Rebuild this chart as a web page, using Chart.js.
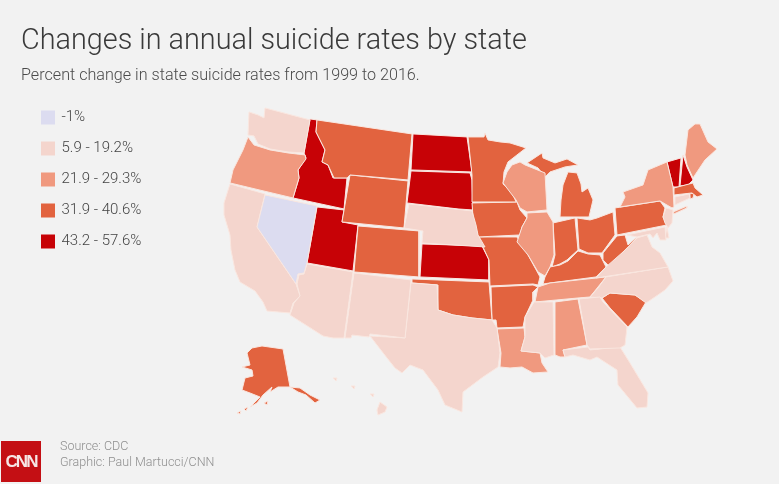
<!DOCTYPE html>
<html><head><meta charset="utf-8">
<script src="https://cdn.jsdelivr.net/npm/chart.js@4"></script>
<style>
html,body{margin:0;padding:0;background:#f2f2f2;width:779px;height:484px;overflow:hidden}
#wrap{position:relative;width:779px;height:484px}
canvas{position:absolute;left:0;top:0}
.src{position:absolute;left:60px;font:300 12.5px/14px Roboto,sans-serif;color:#8f8f8f;white-space:nowrap}
#logo{position:absolute;left:1px;top:441px;width:40px;height:41px;background:#c40f14;color:#f6e6e6;font:bold 17px/41px "Liberation Sans",sans-serif;text-align:center;letter-spacing:-2px}
</style></head><body>
<div id="wrap">
<canvas id="c" width="779" height="484"></canvas>
<div class="src" style="top:439px">Source: CDC</div>
<div class="src" style="top:455px">Graphic: Paul Martucci/CNN</div>
<div id="logo">CNN</div>
</div>
<script>
const titleText = "Changes in annual suicide rates by state";
const subtitleText = "Percent change in state suicide rates from 1999 to 2016.";
const binLabels = ["-1%", "5.9 - 19.2%", "21.9 - 29.3%", "31.9 - 40.6%", "43.2 - 57.6%"];
const binColors = ["#dcdcf0", "#f4d5cd", "#f0997f", "#e2633f", "#c70206"];
const outlineColor = "#f9e6df";

// State membership of each colour bin
const binStates = [
  ["NV"],
  ["WA","CA","AZ","NM","TX","NE","MS","GA","FL","VA","NC","MD","DE","NJ","CT","HI","HI2","HI3","HI4"],
  ["OR","WI","IL","LA","AL","TN","NY","NY2","ME"],
  ["MT","WY","CO","OK","MN","IA","MO","AR","KY","IN","OH","MI","MI2","WV","PA","SC","AK","AK2","AK3","AK4","AK5","MA","RI"],
  ["ID","UT","ND","SD","KS","VT","NH"]
];

// State outlines in map units
const WA=[[249,112],[258,115],[264,118],[265,108],[310,120],[304,153],[288,152],[270,149],[258,144],[254,136],[248,135]];
const OR=[[248,137],[254,145],[270,150],[288,153],[305,155],[306,159],[298,170],[299,178],[293,198],[230,183],[233,170],[243,150]];
const CA=[[230,184],[265,194],[257,227],[296,284],[300,296],[293,303],[290,313],[267,311],[263,302],[255,291],[240,282],[235,270],[231,250],[230,235],[224,215],[224,203]];
const NV=[[265,195],[317,206],[307,263],[304,273],[298,274],[296,284],[257,227]];
const ID=[[310,119],[317,120],[316,132],[325,150],[322,162],[328,165],[333,178],[347,178],[344,209],[293,198],[299,178],[298,170],[306,158],[304,153]];
const MT=[[317,120],[412,134],[408,180],[350,175],[347,178],[334,178],[328,165],[322,162],[325,150],[316,132]];
const WY=[[350,175],[408,181],[404,228],[342,222]];
const UT=[[317,207],[344,210],[342,222],[358,225],[353,271],[307,263]];
const CO=[[358,226],[419,231],[419,277],[354,272]];
const AZ=[[307,264],[353,272],[344,338],[333,338],[323,336],[290,315],[294,303],[300,296],[297,284],[299,275],[304,274]];
const NM=[[354,273],[411,280],[405,338],[370,334],[369,337],[352,335],[351,338],[345,338]];
const TX=[[411,283],[437,285],[438,310],[453,315],[472,318],[492,320],[497,328],[500,353],[498,367],[483,377],[463,392],[462,412],[445,405],[438,390],[423,370],[410,365],[402,373],[395,368],[387,358],[370,336],[405,338]];
const OK=[[412,279],[489,282],[492,320],[472,318],[453,315],[438,310],[438,285],[412,283]];
const KS=[[422,244],[482,246],[489,260],[489,280],[420,277]];
const NE=[[409,204],[472,211],[476,225],[478,235],[485,247],[422,243],[423,231],[404,228]];
const SD=[[411,171],[470,173],[472,180],[473,210],[458,209],[407,203]];
const ND=[[413,134],[467,137],[472,172],[411,170]];
const MN=[[468,137],[484,137],[485,133],[488,140],[500,142],[510,143],[526,148],[508,162],[504,172],[503,184],[512,192],[516,202],[472,202],[472,175]];
const IA=[[472,203],[517,202],[520,210],[527,218],[522,227],[520,235],[478,237],[473,217]];
const WI=[[512,165],[520,162],[525,165],[545,173],[547,210],[527,212],[520,208],[516,200],[503,183],[507,172]];
const IL=[[527,213],[547,212],[553,222],[554,255],[550,267],[545,276],[538,272],[528,255],[517,242],[522,227],[527,218]];
const MO=[[479,237],[517,237],[528,255],[540,277],[538,285],[533,284],[490,286],[489,260],[482,245]];
const AR=[[491,287],[533,285],[538,287],[533,292],[533,300],[525,317],[523,327],[497,328],[496,320],[492,320]];
const LA=[[497,329],[524,328],[525,337],[521,351],[540,353],[542,363],[548,372],[533,373],[522,367],[510,368],[500,367],[501,353]];
const MS=[[534,302],[553,302],[554,355],[545,358],[540,353],[521,351],[525,337],[525,317]];
const AL=[[555,302],[578,299],[587,345],[563,350],[565,357],[560,357],[555,355]];
const GA=[[579,299],[600,297],[603,302],[627,327],[625,345],[620,348],[590,349],[587,345]];
const FL=[[563,350],[588,347],[590,350],[620,347],[630,363],[648,393],[647,407],[637,408],[618,385],[617,370],[597,357],[590,360],[573,355],[565,357]];
const SC=[[602,298],[610,293],[622,294],[635,295],[646,302],[637,317],[628,327],[610,308]];
const VA=[[606,267],[623,252],[637,238],[647,235],[652,247],[660,253],[668,267],[596,278]];
const NC=[[590,297],[598,288],[606,277],[668,267],[673,281],[665,290],[655,297],[646,303],[635,295],[622,294],[610,293],[602,298]];
const TN=[[535,302],[538,287],[550,283],[606,277],[590,297],[578,298]];
const KY=[[543,284],[545,277],[550,267],[560,265],[568,261],[578,251],[588,254],[600,255],[606,267],[596,277],[550,283]];
const IN=[[553,223],[575,218],[578,250],[567,260],[560,264],[552,267],[555,255]];
const OH=[[577,218],[590,220],[597,218],[613,212],[615,235],[602,253],[588,253],[579,249]];
const MI=[[560,217],[561,200],[563,185],[568,172],[577,173],[581,184],[582,192],[588,188],[593,200],[589,217],[577,217]];
const MI2=[[527,163],[542,153],[543,158],[555,163],[567,159],[578,165],[565,167],[550,172],[545,177],[538,168]];
const WV=[[617,236],[625,235],[628,245],[637,237],[635,242],[623,252],[617,260],[610,267],[603,260],[603,253]];
const PA=[[615,208],[660,201],[665,208],[663,217],[667,225],[617,235]];
const NY=[[620,207],[625,197],[623,192],[643,185],[648,170],[667,162],[673,187],[674,207],[672,208],[660,201]];
const NY2=[[673,212],[687,206],[687,208],[674,214]];
const VT=[[667,162],[681,158],[679,187],[673,187]];
const NH=[[683,155],[687,167],[693,180],[688,185],[680,186]];
const ME=[[688,130],[695,124],[700,124],[708,142],[717,149],[705,160],[693,178],[687,165],[685,155]];
const MA=[[674,188],[693,183],[695,188],[703,195],[697,197],[692,193],[674,195]];
const CT=[[675,197],[689,194],[690,198],[675,205]];
const RI=[[690,193],[694,194],[693,198],[690,199]];
const NJ=[[666,208],[673,210],[672,223],[668,228],[665,223],[663,217]];
const DE=[[667,227],[669,238],[665,238]];
const MD=[[627,235],[665,227],[666,240],[660,240],[657,233],[653,238],[650,234],[637,237]];
const AK=[[252,348],[262,346],[283,349],[290,387],[278,387],[270,392],[272,387],[263,395],[257,403],[250,407],[260,397],[250,393],[242,390],[245,378],[253,376],[252,370],[242,367],[250,365],[247,353]];
const AK2=[[290,387],[300,388],[310,395],[320,400],[315,403],[306,395],[298,392]];
const AK3=[[264,403],[268,401],[267,405]];
const AK4=[[244,409],[248,407],[246,411]];
const AK5=[[237,413],[241,411],[240,414]];
const HI=[[380,402],[387,407],[385,412],[378,415],[377,410]];
const HI2=[[333,378],[337,378],[336,381]];
const HI3=[[351,386],[355,386],[354,389]];
const HI4=[[370,394],[374,394],[373,397]];

const outlines={WA,OR,CA,NV,ID,MT,WY,UT,CO,AZ,NM,TX,OK,KS,NE,SD,ND,MN,IA,WI,IL,MO,AR,LA,MS,AL,GA,FL,SC,NC,TN,KY,IN,OH,MI,MI2,WV,PA,NY,NY2,VT,NH,ME,MA,CT,RI,NJ,DE,MD,VA,AK,AK2,AK3,AK4,AK5,HI,HI2,HI3,HI4};

const datasets=[];
binStates.forEach((states,b)=>states.forEach(s=>{
  const pts=outlines[s].concat([outlines[s][0]]).map(p=>({x:p[0],y:p[1]}));
  datasets.push({label:s,data:pts,showLine:true,fill:'shape',tension:0,pointRadius:0,
    backgroundColor:binColors[b],borderColor:outlineColor,borderWidth:1,borderJoinStyle:'round',clip:false});
}));

// Chart.js leaves a chartArea legend at the canvas top; put it where the reference has it
const legendPlace={id:'legendPlace',afterLayout(chart){
  const l=chart.legend; l.left=26; l.top=94; l.right=300; l.bottom=300;
}};

new Chart(document.getElementById('c'),{
  type:'scatter',
  data:{datasets},
  plugins:[legendPlace],
  options:{
    responsive:false,animation:false,devicePixelRatio:1,
    events:[],
    layout:{padding:{left:21,top:0,right:0,bottom:0}},
    scales:{
      x:{type:'linear',display:false,min:21,max:779},
      y:{type:'linear',display:false,min:92,max:484,reverse:true}
    },
    plugins:{
      tooltip:{enabled:false},
      title:{display:true,text:titleText,align:'start',color:'#3a3a3a',
        font:{family:'Roboto',size:28.8,weight:'300',lineHeight:1.2},padding:{top:25,bottom:7}},
      subtitle:{display:true,text:subtitleText,align:'start',color:'#4a4a4a',
        font:{family:'Roboto',size:16.15,weight:'300',lineHeight:1.2},padding:{top:0,bottom:6}},
      legend:{display:true,position:'chartArea',align:'start',
        labels:{boxWidth:12,boxHeight:12,padding:16,color:'#444',
          font:{family:'Roboto',size:15,weight:'300',lineHeight:14/15},
          generateLabels:()=>binLabels.map((t,i)=>({text:t,fillStyle:binColors[i],strokeStyle:binColors[i],lineWidth:2,hidden:false,fontColor:'#444'}))}}
    }
  }
});
</script>
</body></html>
